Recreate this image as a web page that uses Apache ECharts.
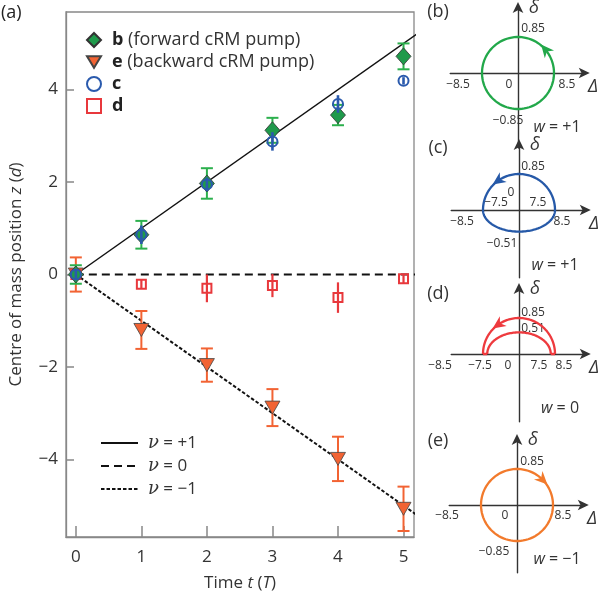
<!DOCTYPE html>
<html lang="en">
<head>
<meta charset="UTF-8">
<title>cRM pump</title>
<script src="https://cdn.jsdelivr.net/npm/echarts@6/dist/echarts.min.js"></script>
</head>
<body style="margin:0">
<div id="main" style="width:600px;height:597px;"></div>
<script type="text/javascript">
// ---- data ----
var times = [0, 1, 2, 3, 4, 5];
// b (forward cRM pump)
var bZ = [0, 0.86, 1.97, 3.12, 3.45, 4.72];
var bErr = [0.2, 0.3, 0.33, 0.27, 0.22, 0.28];
// e (backward cRM pump)
var eZ = [0, -1.2, -1.96, -2.88, -3.99, -5.07];
var eErr = [0.37, 0.41, 0.36, 0.4, 0.48, 0.48];
// c
var cZ = [0, 0.86, 1.95, 2.88, 3.69, 4.19];
var cErr = [0.1, 0.2, 0.15, 0.2, 0.19, 0.08];
// d
var dZ = [0, -0.21, -0.3, -0.24, -0.5, -0.09];
var dErr = [0.05, 0.1, 0.3, 0.25, 0.33, 0.1];
// theory lines
var nuPlus = [[0, 0], [5.3, 5.3]];
var nuZero = [[0, 0], [5.3, 0]];
var nuMinus = [[0, 0], [5.3, -5.3]];
var xTicks = [0, 1, 2, 3, 4, 5];
var yTicks = [-4, -2, 0, 2, 4];
var markNames = ['b', 'e', 'c', 'd'];
var markNotes = {b: '(forward cRM pump)', e: '(backward cRM pump)', c: '', d: ''};
var nuNames = ['nu+1', 'nu0', 'nu-1'];
var nuValues = {'nu+1': '+1', 'nu0': '0', 'nu-1': '\u22121'};

// small panels: arcs [rx (Delta), ry (delta), startDeg, endDeg]
var loopB = [[8.5, 0.85, 0, 360]];
var loopC = [[8.5, 0.85, 0, 180], [8.5, 0.51, 180, 360]];
var loopD = [[8.5, 0.85, 0, 180], [7.5, 0.51, 0, 180]];
var loopE = [[8.5, 0.85, 0, 360]];
var segD = [[-8.5, 0], [-7.5, 0], [0, '-'], [7.5, 0], [8.5, 0]];
// arrows [rx, ry, angleDeg, direction]
var arrowB = [[8.5, 0.85, 40, 1]];
var arrowC = [[8.5, 0.85, 125, 1]];
var arrowD = [[8.5, 0.85, 125, 1]];
var arrowE = [[8.5, 0.85, 45, -1]];
var labelsB = ['0.85', '\u22128.5', '0', '8.5', '\u22120.85'];
var labelsC = ['0.85', '0', '\u22127.5', '7.5', '\u22128.5', '8.5', '\u22120.51'];
var labelsD = ['0.85', '0.51', '\u22128.5', '\u22127.5', '0', '7.5', '8.5'];
var labelsE = ['0.85', '\u22128.5', '0', '8.5', '\u22120.85'];
var windings = ['+1', '+1', '0', '\u22121'];

var FONT = 'Open Sans';
var GREEN = '#1f9a4b', GREEN_BAR = '#2cb04d', ORANGE = '#f26333', BLUE = '#2a5aad', RED = '#e8383c';

function withErr(z, err) {
    return times.map(function (t, i) { return [t, z[i], err[i]]; });
}
function points(z) {
    return times.map(function (t, i) { return [t, z[i]]; });
}

function errorBars(color, cap, width) {
    return function (params, api) {
        var x = api.value(0), y = api.value(1), e = api.value(2);
        var hi = api.coord([x, y + e]), lo = api.coord([x, y - e]);
        var st = {stroke: color, lineWidth: width};
        var kids = [{type: 'line', shape: {x1: hi[0], y1: hi[1], x2: lo[0], y2: lo[1]}, style: st}];
        if (cap) {
            kids.push({type: 'line', shape: {x1: hi[0] - cap, y1: hi[1], x2: hi[0] + cap, y2: hi[1]}, style: st});
            kids.push({type: 'line', shape: {x1: lo[0] - cap, y1: lo[1], x2: lo[0] + cap, y2: lo[1]}, style: st});
        }
        return {type: 'group', children: kids};
    };
}

function loopRender(color) {
    return function (params, api) {
        var rx = api.value(0), ry = api.value(1), a0 = api.value(2), a1 = api.value(3);
        var c = api.coord([0, 0]);
        var px = api.coord([rx, 0])[0] - c[0];
        var py = c[1] - api.coord([0, ry])[1];
        var pts = [];
        for (var k = 0; k <= 90; k++) {
            var t = (a0 + (a1 - a0) * k / 90) * Math.PI / 180;
            pts.push([c[0] + px * Math.cos(t), c[1] - py * Math.sin(t)]);
        }
        return {type: 'polyline', shape: {points: pts}, style: {stroke: color, lineWidth: 2.3, fill: null}};
    };
}

function arrowRender(color) {
    return function (params, api) {
        var rx = api.value(0), ry = api.value(1), t = api.value(2) * Math.PI / 180, dir = api.value(3);
        var c = api.coord([0, 0]);
        var px = api.coord([rx, 0])[0] - c[0];
        var py = c[1] - api.coord([0, ry])[1];
        var P = [c[0] + px * Math.cos(t), c[1] - py * Math.sin(t)];
        var u = [-px * Math.sin(t) * dir, -py * Math.cos(t) * dir];
        var L = Math.sqrt(u[0] * u[0] + u[1] * u[1]);
        u = [u[0] / L, u[1] / L];
        var n = [-u[1], u[0]];
        var pts = [
            [P[0] + u[0] * 7, P[1] + u[1] * 7],
            [P[0] - u[0] * 6 + n[0] * 6, P[1] - u[1] * 6 + n[1] * 6],
            [P[0] - u[0] * 2, P[1] - u[1] * 2],
            [P[0] - u[0] * 6 - n[0] * 6, P[1] - u[1] * 6 - n[1] * 6]
        ];
        return {type: 'polygon', shape: {points: pts}, style: {fill: color}};
    };
}

// panel layout (centre pixel of each small diagram)
var panels = [
    {cx: 518, cy: 73, yMin: -1.77, color: '#22a84a', loop: loopB, arrow: arrowB, labels: labelsB,
        off: [[15, -44], [-60, 12], [-9, 12], [49, 12], [-10, 48]], w: [39, 54], letter: '(b)', ly: 12},
    {cx: 519, cy: 210, yMin: -1.6, color: '#2659a8', loop: loopC, arrow: arrowC, labels: labelsC,
        off: [[14, -43], [-8, -17], [-23, -7], [19, -7], [-57, 12], [43, 12], [-17, 34]], w: [36, 55], letter: '(c)', ly: 148},
    {cx: 519, cy: 354, yMin: -1.6, color: '#ee3a3e', loop: loopD, arrow: arrowD, labels: labelsD,
        off: [[14, -41], [14, -25], [-79, 12], [-39, 12], [-11, 12], [20, 12], [45, 12]], w: [41, 54], letter: '(d)', ly: 294},
    {cx: 517, cy: 505, yMin: -1.6, color: '#f27a2c', loop: loopE, arrow: arrowE, labels: labelsE,
        off: [[15, -43], [-70, 11], [-12, 11], [46, 11], [-23, 47]], w: [40, 54], letter: '(e)', ly: 441}
];
var KX = 36 / 8.5, KY = 36 / 0.85, YMAX = 1.58;

var grids = [{left: 58, top: 12, width: 356, height: 526, show: true, borderColor: '#888', borderWidth: 1.3}];
var xAxes = [{
    type: 'value', gridIndex: 0, min: -0.15, max: 5.16,
    name: 'Time {i|t} ({i|T})', nameLocation: 'middle', nameGap: 38,
    nameTextStyle: {fontSize: 17, color: '#333', fontFamily: FONT, rich: {i: {fontStyle: 'italic', fontSize: 17, color: '#333', fontFamily: FONT}}},
    axisLine: {onZero: false, lineStyle: {color: '#888', width: 1.3}},
    axisTick: {inside: true, length: 11, customValues: xTicks, lineStyle: {color: '#888', width: 1.5}},
    axisLabel: {customValues: xTicks, fontSize: 17, color: '#333', margin: 12, fontFamily: FONT},
    splitLine: {show: false}
}];
var yAxes = [{
    type: 'value', gridIndex: 0, min: -5.68, max: 5.68,
    name: 'Centre of mass position {i|z} ({i|d})', nameLocation: 'middle', nameGap: 41,
    nameTextStyle: {fontSize: 17, color: '#333', fontFamily: FONT, rich: {i: {fontStyle: 'italic', fontSize: 17, color: '#333', fontFamily: FONT}}},
    axisLine: {onZero: false, lineStyle: {color: '#888', width: 1.3}},
    axisTick: {inside: true, length: 8, customValues: yTicks, lineStyle: {color: '#888', width: 1.5}},
    axisLabel: {customValues: yTicks, fontSize: 17, color: '#333', margin: 8, fontFamily: FONT,
        formatter: function (v) { return String(v).replace('-', '\u2212'); }},
    splitLine: {show: false}
}];

var series = [
    {type: 'line', name: 'nu+1', data: nuPlus, symbol: 'none', lineStyle: {color: '#111', width: 1.5}, z: 2},
    {type: 'line', name: 'nu0', data: nuZero, symbol: 'none', lineStyle: {color: '#111', width: 2, type: [8, 5]}, z: 2},
    {type: 'line', name: 'nu-1', data: nuMinus, symbol: 'none', lineStyle: {color: '#111', width: 2, type: [3.5, 2]}, z: 2},
    {type: 'custom', data: withErr(eZ, eErr), renderItem: errorBars(ORANGE, 6, 2), z: 3},
    {type: 'scatter', name: 'e', data: points(eZ), symbol: 'triangle', symbolRotate: 180, symbolSize: [15, 13],
        itemStyle: {color: ORANGE, borderColor: '#444', borderWidth: 0.8, opacity: 1}, z: 4},
    {type: 'custom', data: withErr(dZ, dErr), renderItem: errorBars(RED, 0, 2.2), z: 3},
    {type: 'scatter', name: 'd', data: points(dZ), symbol: 'rect', symbolSize: 9,
        itemStyle: {color: 'rgba(255,255,255,0)', borderColor: RED, borderWidth: 2, opacity: 1}, z: 4},
    {type: 'custom', data: withErr(bZ, bErr), renderItem: errorBars(GREEN_BAR, 6, 2), z: 5},
    {type: 'scatter', name: 'b', data: points(bZ), symbol: 'diamond', symbolSize: [15, 17],
        itemStyle: {color: GREEN, borderColor: '#333', borderWidth: 0.8, opacity: 1}, z: 6},
    {type: 'custom', data: withErr(cZ, cErr), renderItem: errorBars(BLUE, 0, 2.6), z: 7},
    {type: 'scatter', name: 'c', data: points(cZ), symbol: 'circle', symbolSize: 10,
        itemStyle: {color: 'rgba(255,255,255,0)', borderColor: BLUE, borderWidth: 2, opacity: 1}, z: 8}
];

var texts = [{type: 'text', left: 1, top: 4, style: {text: '(a)', font: '18px ' + FONT, fill: '#222'}}];

function addText(x, y, s, size, italic, align) {
    texts.push({type: 'text', x: x, y: y, style: {text: s, fill: '#333', align: align || 'center', verticalAlign: 'middle',
        font: (italic ? 'italic ' : '') + size + 'px ' + FONT}});
}

panels.forEach(function (p, k) {
    var idx = k + 1;
    grids.push({left: p.cx - 16 * KX, width: 32 * KX, top: p.cy - YMAX * KY, height: (YMAX - p.yMin) * KY});
    var axLine = {onZero: true, symbol: ['none', 'arrow'], symbolSize: [8, 11], symbolOffset: [0, 4],
        lineStyle: {color: '#333', width: 1.4}};
    xAxes.push({type: 'value', gridIndex: idx, min: -16, max: 16, axisLine: axLine,
        axisTick: {show: false}, axisLabel: {show: false}, splitLine: {show: false}});
    yAxes.push({type: 'value', gridIndex: idx, min: p.yMin, max: YMAX, axisLine: axLine,
        axisTick: {show: false}, axisLabel: {show: false}, splitLine: {show: false}});
    series.push({type: 'custom', xAxisIndex: idx, yAxisIndex: idx, data: p.loop, clip: false,
        renderItem: loopRender(p.color), z: 5});
    series.push({type: 'custom', xAxisIndex: idx, yAxisIndex: idx, data: p.arrow, clip: false,
        renderItem: arrowRender(p.color), z: 6});
    if (k === 2) {
        series.push({type: 'line', xAxisIndex: idx, yAxisIndex: idx, data: segD, symbol: 'none',
            lineStyle: {color: p.color, width: 2.3}, z: 5});
    }
    p.labels.forEach(function (s, j) {
        addText(p.cx + p.off[j][0], p.cy + p.off[j][1], s, 12, false);
    });
    texts.push({type: 'text', x: p.cx + p.w[0], y: p.cy + p.w[1], style: {
        text: '{i|w} = ' + windings[k], align: 'center', verticalAlign: 'middle', fill: '#333',
        font: '16px ' + FONT, rich: {i: {fontStyle: 'italic', fontSize: 16, fontFamily: FONT, fill: '#333'}}}});
    addText(p.cx + 16, p.cy - 65, '\u03b4', 18, true, 'center');
    addText(p.cx + 75, p.cy + 14, '\u0394', 18, true, 'center');
    addText(438, p.ly, p.letter, 18, false, 'center');
});

var myChart = echarts.init(document.getElementById('main'));
var option = {
    animation: false,
    backgroundColor: '#fff',
    textStyle: {fontFamily: FONT},
    legend: [{
        data: markNames.map(function (n) {
            var icon = {b: 'diamond', e: 'path://M0,0L12,0L6,10Z', c: 'circle', d: 'rect'}[n];
            var item = {name: n, icon: icon};
            if (n === 'c') item.itemStyle = {color: '#fff', borderColor: BLUE, borderWidth: 2};
            if (n === 'd') item.itemStyle = {color: '#fff', borderColor: RED, borderWidth: 2};
            return item;
        }),
        orient: 'vertical', left: 86, top: 31, padding: 0, itemWidth: 14, itemHeight: 14, itemGap: 4,
        selectedMode: false,
        formatter: function (n) { return '{b|' + n + '} ' + markNotes[n]; },
        textStyle: {fontSize: 18, color: '#333', fontFamily: FONT, lineHeight: 17,
            rich: {b: {fontWeight: 'bold', fontSize: 18, lineHeight: 17, color: '#222', fontFamily: FONT, padding: [0, 0, 0, 6]}}}
    }, {
        data: nuNames.map(function (n) {
            return {name: n, itemStyle: {color: 'rgba(0,0,0,0)', borderWidth: 0, opacity: 0}};
        }),
        orient: 'vertical', left: 100, top: 434, padding: 0, itemWidth: 37, itemHeight: 12, itemGap: 5,
        selectedMode: false,
        formatter: function (n) { return '{i|\u03bd} = ' + nuValues[n]; },
        textStyle: {fontSize: 17, color: '#333', fontFamily: FONT, lineHeight: 18,
            rich: {i: {fontStyle: 'italic', fontSize: 18, lineHeight: 18, color: '#333', fontFamily: 'DejaVu Serif', padding: [0, 0, 0, 5]}}}
    }],
    grid: grids,
    xAxis: xAxes,
    yAxis: yAxes,
    series: series,
    graphic: texts
};
myChart.setOption(option);
</script>
</body>
</html>
